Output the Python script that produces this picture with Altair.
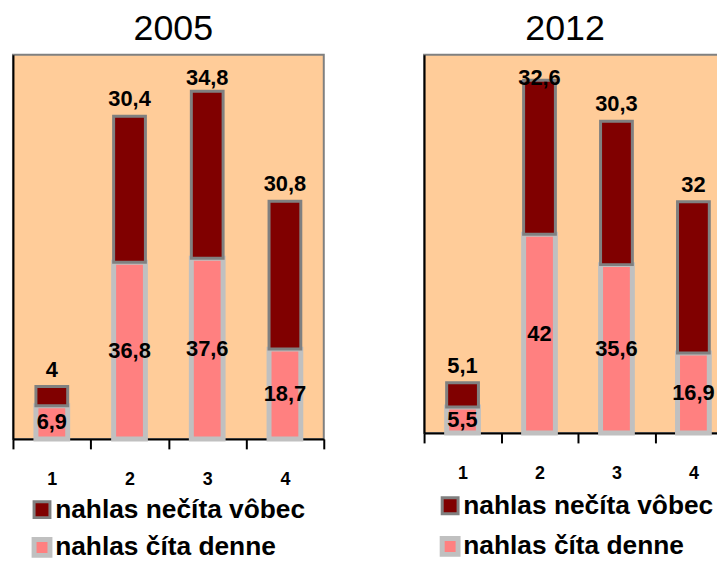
import altair as alt
import pandas as pd

categories = ["1", "2", "3", "4"]
series = ["nahlas nečíta vôbec", "nahlas číta denne"]
daily_2005 = [6.9, 36.8, 37.6, 18.7]
never_2005 = [4, 30.4, 34.8, 30.8]
daily_2012 = [5.5, 42, 35.6, 16.9]
never_2012 = [5.1, 32.6, 30.3, 32]

FONT = "Arial, Liberation Sans, Helvetica, sans-serif"
DARK = "#800000"
PINK = "#FF8080"
YMAX = 80


def fmt(v):
    s = ("%g" % v)
    return s.replace(".", ",")


def build(daily, never, ppu):
    rows = []
    above = 17.0 / ppu      # label sits ~17px above the bar top
    cap = YMAX - 24.0 / ppu  # but is kept inside the plot area
    for c, d, n in zip(categories, daily, never):
        rows.append({"cat": c, "series": series[1], "value": d, "ord": 0,
                     "label": fmt(d), "ypos": d / 2.0, "kind": "mid"})
        rows.append({"cat": c, "series": series[0], "value": n, "ord": 1,
                     "label": fmt(n), "ypos": min(d + n + above, cap), "kind": "top"})
    return pd.DataFrame(rows)


def legend(lx, ly, row_pad):
    return alt.Legend(orient="none", legendX=lx, legendY=ly,
                      symbolType="square", symbolSize=256,
                      symbolStrokeWidth=3,
                      labelFontSize=26.5, labelFontWeight="bold",
                      labelFont=FONT, labelColor="black",
                      labelOffset=0, rowPadding=row_pad,
                      labelLimit=400)


def panel(title, daily, never, w, h, lx, ly, row_pad, tdx):
    df = build(daily, never, h / YMAX)
    x = alt.X("cat:N", sort=categories, title=None,
              scale=alt.Scale(paddingInner=0, paddingOuter=0),
              axis=alt.Axis(labelAngle=0, labelFontSize=18, labelFontWeight="bold",
                            labelFont=FONT, labelColor="black", labelPadding=22,
                            tickSize=10, tickColor="black", tickWidth=2,
                            tickBand="extent", domainColor="black", domainWidth=2))
    yscale = alt.Scale(domain=[0, YMAX], nice=False)
    bars = alt.Chart(df).mark_bar(size=32).encode(
        x=x,
        y=alt.Y("value:Q", stack="zero", scale=yscale, title=None,
                axis=alt.Axis(labels=False, ticks=False, grid=False,
                              domainColor="black", domainWidth=2)),
        order=alt.Order("ord:Q"),
        color=alt.Color("series:N", title=None,
                        scale=alt.Scale(domain=series, range=[DARK, PINK]),
                        legend=legend(lx, ly, row_pad)),
        stroke=alt.Stroke("series:N", title=None,
                          scale=alt.Scale(domain=series, range=["#808080", "#C0C0C0"]),
                          legend=legend(lx, ly, row_pad)),
        strokeWidth=alt.StrokeWidth("series:N",
                                    scale=alt.Scale(domain=series, range=[3, 5]),
                                    legend=None),
    )
    labels = alt.Chart(df).mark_text(
        fontSize=22, fontWeight="bold", font=FONT, color="black",
        baseline="middle").encode(
        x=alt.X("cat:N", sort=categories),
        y=alt.Y("ypos:Q", scale=yscale),
        text="label:N")
    return alt.layer(bars, labels).properties(
        width=w, height=h,
        title=alt.TitleParams(text=title, fontSize=36, font=FONT,
                              fontWeight="normal", anchor="middle", color="black",
                              offset=7, dx=tdx),
    )


left = panel("2005", daily_2005, never_2005, 313, 387, 16, 445, 5, 5)
right = panel("2012", daily_2012, never_2012, 310, 381, 13, 441, 8, -13)

chart = alt.hconcat(left, right, spacing=97).resolve_scale(
    color="independent", stroke="independent", strokeWidth="independent"
).properties(
    padding={"left": 3, "top": 0, "right": -17, "bottom": 0}
).configure_view(
    fill="#FFCC99", stroke="#808080", strokeWidth=2
)

chart.save("out.html", embed_options={"renderer": "svg", "actions": False})
